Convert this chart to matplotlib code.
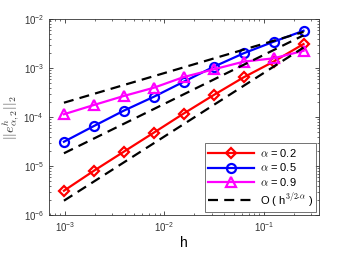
import numpy as np
import matplotlib.pyplot as plt

plt.rcParams['font.family'] = ['Liberation Sans', 'DejaVu Sans']
plt.rcParams['mathtext.fontset'] = 'cm'

# Шаги сетки
h = [1/1024, 1/512, 1/256, 1/128, 1/64, 1/32, 1/16, 1/8, 1/4]

# Ошибки для разных alpha
err_02 = [3.13e-6, 8.0e-6, 1.96e-5, 4.79e-5, 1.18e-4, 2.81e-4, 6.46e-4, 1.35e-3, 3.09e-3]
err_05 = [3.13e-5, 6.55e-5, 1.35e-4, 2.59e-4, 5.25e-4, 1.06e-3, 2.0e-3, 3.44e-3, 5.77e-3]
err_09 = [1.14e-4, 1.76e-4, 2.69e-4, 3.96e-4, 6.55e-4, 9.4e-4, 1.35e-3, 1.58e-3, 2.25e-3]

# Опорные прямые O(h^(3/2-alpha)): концы
ref_h = [1/1024, 1/4]
ref_09 = [1.96e-4, 5.45e-3]
ref_05 = [1.82e-5, 4.65e-3]
ref_02 = [1.96e-6, 2.62e-3]

fig = plt.figure(figsize=(3.52, 2.54), dpi=100)
ax = fig.add_axes([0.139, 0.1535, 0.767, 0.7715])

ax.plot(h, err_02, '-', color='red', marker='D', ms=5, mfc='none', mew=1.6, lw=1.6, label=r'$\alpha$ = 0.2')
ax.plot(h, err_05, '-', color='blue', marker='o', ms=6.5, mfc='none', mew=1.6, lw=1.6, label=r'$\alpha$ = 0.5')
ax.plot(h, err_09, '-', color='magenta', marker='^', ms=7, mfc='none', mew=1.6, lw=1.6, label=r'$\alpha$ = 0.9')
ax.plot(ref_h, ref_09, 'k--', lw=1.6, dashes=(4.5, 2.8), label=r'O ( h$^{3/2\text{-}\alpha}$ )')
ax.plot(ref_h, ref_05, 'k--', lw=1.6, dashes=(4.5, 2.8))
ax.plot(ref_h, ref_02, 'k--', lw=1.6, dashes=(4.5, 2.8))

ax.set_xscale('log')
ax.set_yscale('log')
ax.set_xlim(6.9e-4, 0.357)
ax.set_ylim(1e-6, 1e-2)

ax.set_xlabel('h', fontsize=10, labelpad=2)
ax.set_ylabel(r'$||e^h_{\alpha,2}||_2$', fontsize=10, color='#333333', labelpad=1)

ax.tick_params(which='both', direction='in', top=True, right=True, labelsize=7, colors='#333333')
ax.tick_params(which='major', length=3, width=0.6)
ax.tick_params(which='minor', length=1.6, width=0.5)
for s in ax.spines.values():
    s.set_linewidth(0.6)
    s.set_color('#333333')

leg = ax.legend(loc='lower right', fontsize=8, frameon=True, fancybox=False, edgecolor='#333333',
                handlelength=4.1, borderpad=0.3, labelspacing=0.25, handletextpad=0.5,
                borderaxespad=0.25)
leg.get_frame().set_linewidth(0.6)

fig.savefig('out.png', dpi=100)
